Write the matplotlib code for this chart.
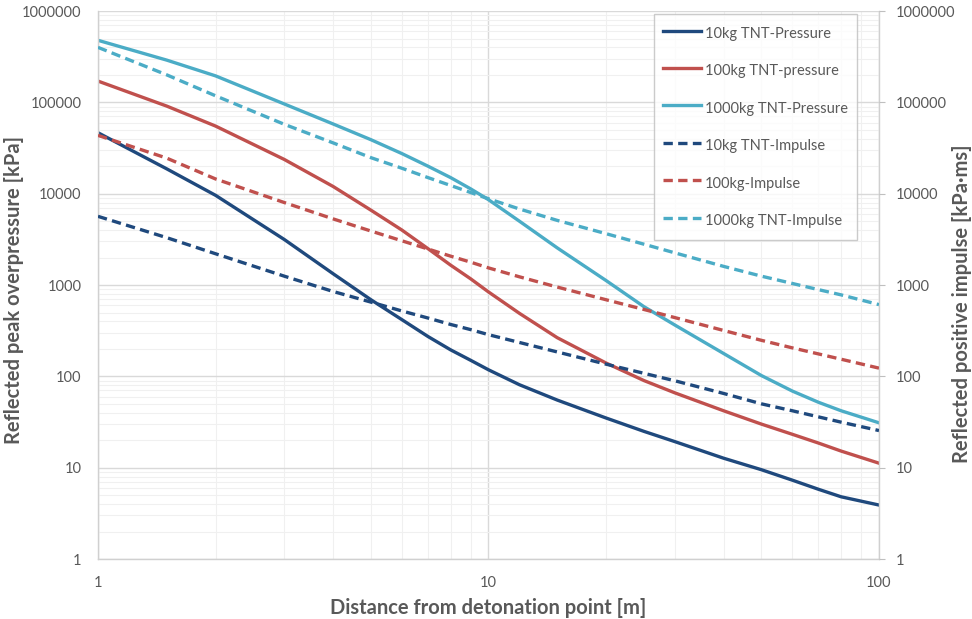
import numpy as np
import matplotlib.pyplot as plt
from matplotlib.ticker import FixedLocator, FixedFormatter, LogLocator, NullFormatter

plt.rcParams['font.family'] = ['Lato', 'DejaVu Sans']

# distance from detonation point [m]
dist = [1, 1.5, 2, 3, 4, 5, 6, 7, 8, 9, 10, 12, 15, 20, 25, 30, 40, 50, 60, 70, 80, 100]

# reflected peak overpressure [kPa]
p10 = [46500, 18700, 9600, 3150, 1330, 690, 418, 273, 195, 150, 118, 81, 55, 35, 25,
       19.3, 12.7, 9.5, 7.3, 5.8, 4.8, 3.9]
p100 = [171000, 91000, 55000, 23700, 12000, 6600, 4000, 2500, 1650, 1170, 840, 490, 265,
        140, 90, 66, 42, 30, 23.2, 18.6, 15.2, 11.2]
p1000 = [478000, 290000, 195000, 96000, 58000, 39000, 27500, 20000, 15000, 11300, 8600,
         5000, 2550, 1120, 580, 365, 178, 102, 69, 52, 42, 31]

# reflected positive impulse [kPa.ms]
i10 = [5650, 3300, 2200, 1250, 850, 650, 520, 435, 370, 325, 286, 235, 185, 136, 108,
       89.5, 65, 50, 42, 36, 31.5, 25.5]
i100 = [43500, 24500, 14500, 8000, 5300, 3900, 3050, 2480, 2070, 1780, 1540, 1230, 950,
        690, 540, 440, 318, 248, 205, 176, 154, 123]
i1000 = [400000, 200000, 118000, 57500, 36000, 24800, 19000, 15000, 12300, 10300, 8800,
         6800, 5100, 3650, 2800, 2250, 1600, 1250, 1040, 890, 780, 610]

y_ticks = [1, 10, 100, 1000, 10000, 100000, 1000000]
y_ticklabels = [str(v) for v in y_ticks]
x_ticks = [1, 10, 100]

c_blue = '#1F497D'
c_red = '#C0504D'
c_cyan = '#4BACC6'
grey = '#595959'

fig = plt.figure(figsize=(9.72, 6.19), dpi=100)
ax = fig.add_axes([0.1008, 0.0969, 0.8035, 0.8853])
ax2 = ax.twinx()

lw = 2.4
dash = (2.8, 1.6)
h1, = ax.plot(dist, p10, color=c_blue, lw=lw, label='10kg TNT-Pressure')
h2, = ax.plot(dist, p100, color=c_red, lw=lw, label='100kg TNT-pressure')
h3, = ax.plot(dist, p1000, color=c_cyan, lw=lw, label='1000kg TNT-Pressure')
h4, = ax2.plot(dist, i10, color=c_blue, lw=lw, dashes=dash, label='10kg TNT-Impulse')
h5, = ax2.plot(dist, i100, color=c_red, lw=lw, dashes=dash, label='100kg-Impulse')
h6, = ax2.plot(dist, i1000, color=c_cyan, lw=lw, dashes=dash, label='1000kg TNT-Impulse')

for a in (ax, ax2):
    a.set_xscale('log')
    a.set_yscale('log')
    a.set_xlim(1, 100)
    a.set_ylim(1, 1000000)
    a.yaxis.set_major_locator(FixedLocator(y_ticks))
    a.yaxis.set_major_formatter(FixedFormatter(y_ticklabels))
    a.yaxis.set_minor_locator(LogLocator(base=10, subs=np.arange(2, 10)))
    a.yaxis.set_minor_formatter(NullFormatter())
    a.tick_params(which='both', labelsize=10.5, labelcolor=grey, color='#BFBFBF')
    for s in a.spines.values():
        s.set_visible(False)

ax.xaxis.set_major_locator(FixedLocator(x_ticks))
ax.xaxis.set_major_formatter(FixedFormatter(['1', '10', '100']))
ax.xaxis.set_minor_locator(LogLocator(base=10, subs=np.arange(2, 10)))
ax.xaxis.set_minor_formatter(NullFormatter())
ax.tick_params(axis='x', which='both', length=0, pad=12)
ax.tick_params(axis='y', which='both', length=0, pad=12)
ax2.tick_params(axis='y', which='major', length=4, pad=8)
ax2.tick_params(axis='y', which='minor', length=0)

ax.grid(True, which='major', color='#D9D9D9', lw=1.0)
ax.grid(True, which='minor', color='#F0F0F0', lw=0.8)
ax.set_axisbelow(True)
for side in ('left', 'right', 'bottom'):
    ax.spines[side].set_visible(True)
    ax.spines[side].set_color('#D0D0D0')
    ax.spines[side].set_linewidth(1.0)

ax.set_xlabel('Distance from detonation point [m]', fontsize=14.5, fontweight='bold',
              color=grey, labelpad=6)
ax.set_ylabel('Reflected peak overpressure [kPa]', fontsize=14.5, fontweight='bold',
              color=grey)
ax.yaxis.set_label_coords(-0.095, 0.49)
ax2.set_ylabel('Reflected positive impulse [kPa\u00b7ms]', fontsize=14.5, fontweight='bold',
               color=grey)
ax2.yaxis.set_label_coords(1.094, 0.465)

leg = ax2.legend(handles=[h1, h2, h3, h4, h5, h6], loc='upper right',
                 bbox_to_anchor=(0.972, 0.995), fontsize=10.5, frameon=True, fancybox=False,
                 handlelength=2.6, handleheight=1.7, handletextpad=0.25, labelspacing=1.22,
                 borderpad=0.65, borderaxespad=0)
leg.get_frame().set_edgecolor('#BFBFBF')
leg.get_frame().set_linewidth(1.0)
for t in leg.get_texts():
    t.set_color(grey)

plt.savefig('out.png', dpi=100)
